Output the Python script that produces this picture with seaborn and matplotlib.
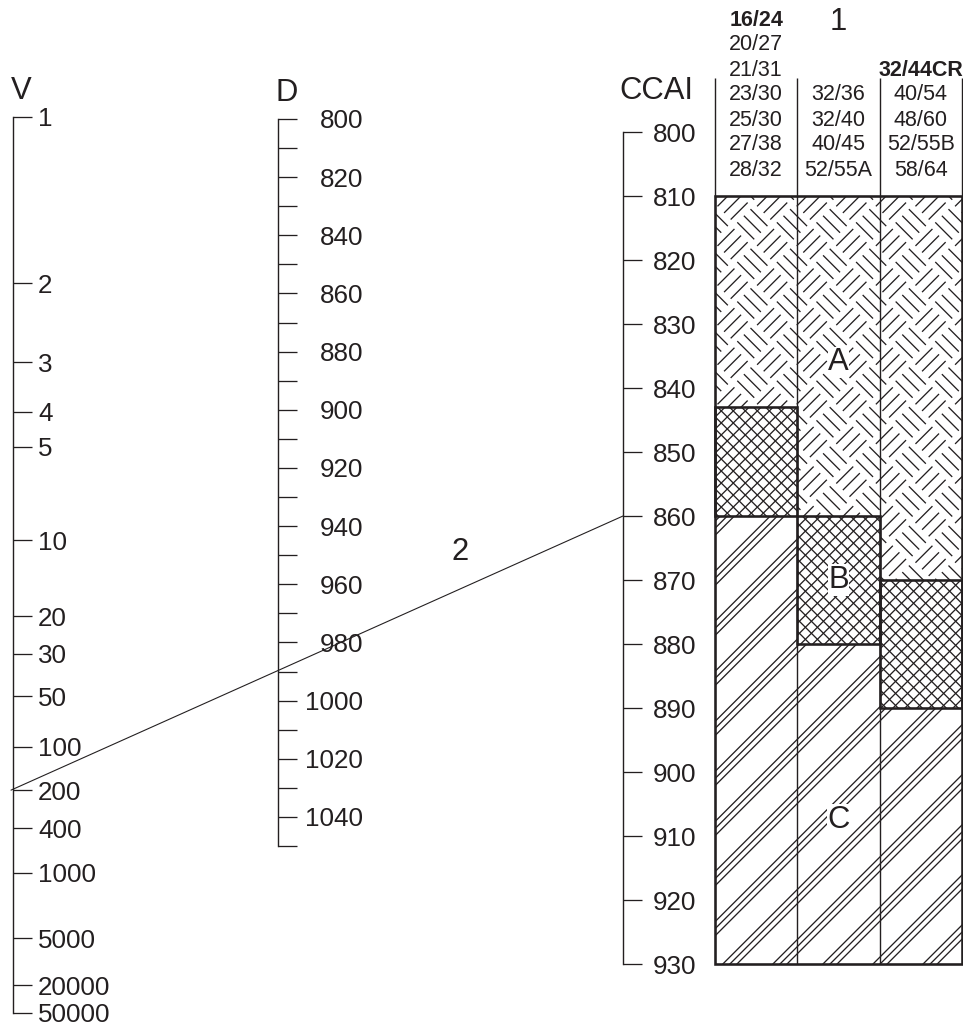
import numpy as np
import matplotlib
matplotlib.use('Agg')
import matplotlib.pyplot as plt
import seaborn as sns
from matplotlib.collections import LineCollection
from matplotlib.patches import Rectangle
from matplotlib.transforms import IdentityTransform
from matplotlib.lines import Line2D
from matplotlib.ticker import NullLocator, FixedLocator

# ---------------- data ----------------
v_ticks = [1, 2, 3, 4, 5, 10, 20, 30, 50, 100, 200, 400, 1000, 5000, 20000, 50000]
d_major = list(range(800, 1041, 20))
d_minor = list(range(810, 1051, 20))
ccai_ticks = list(range(800, 931, 10))

col1_grades = ['16/24', '20/27', '21/31', '23/30', '25/30', '27/38', '28/32']
col2_grades = ['32/36', '32/40', '40/45', '52/55A']
col3_grades = ['32/44CR', '40/54', '48/60', '52/55B', '58/64']
bold_grades = ['16/24', '32/44CR']

zone_a_top = [810, 810, 810]
zone_b_top = [843, 860, 870]
zone_c_top = [860, 880, 890]
zone_bottom = [930, 930, 930]
zone_labels = ['A', 'B', 'C']
zone_label_ccai = [836, 870, 907.5]

example_v = 200
example_ccai = 860

# ---------------- style ----------------
sns.set_theme(style='white')
plt.rcParams['font.family'] = ['Liberation Sans', 'DejaVu Sans']
ink = '#231f20'

W, H, DPI = 963, 1036, 72
fig = plt.figure(figsize=(W / DPI, H / DPI), dpi=DPI)
fig.patch.set_facecolor('white')


def px_axes(x0, y0, x1, y1):
    return fig.add_axes([x0 / W, 1 - y1 / H, (x1 - x0) / W, (y1 - y0) / H])


def scale_axis(ax, pad, fs=26):
    ax.set_facecolor('none')
    for s in ['left', 'top', 'bottom']:
        ax.spines[s].set_visible(False)
    ax.spines['right'].set_visible(True)
    ax.spines['right'].set_color(ink)
    ax.spines['right'].set_linewidth(1.4)
    ax.xaxis.set_visible(False)
    ax.yaxis.tick_right()
    ax.tick_params(axis='y', which='both', direction='out', length=19, width=1.3,
                   color=ink, labelcolor=ink, labelsize=fs, pad=pad)
    ax.set_xlim(0, 1)


# V axis (double-log viscosity scale)
ax_v = px_axes(0, 117, 13, 1013)
with np.errstate(all='ignore'):
    ax_v.set_yscale('function', functions=(lambda v: np.log10(np.log10(np.asarray(v) + 0.85)),
                                           lambda t: 10 ** (10 ** np.asarray(t)) - 0.85))
ax_v.set_ylim(50000, 1)
scale_axis(ax_v, pad=6)
ax_v.yaxis.set_major_locator(FixedLocator(v_ticks))
ax_v.yaxis.set_minor_locator(NullLocator())
ax_v.set_yticklabels([str(v) for v in v_ticks])

# D axis (density)
ax_d = px_axes(200, 119, 278, 846)
ax_d.set_ylim(1050, 800)
scale_axis(ax_d, pad=66)
ax_d.set_yticks(d_major)
ax_d.set_yticks(d_minor, minor=True)
ax_d.set_yticklabels([str(d) for d in d_major])
for lab in ax_d.get_yticklabels():
    lab.set_ha('right')

# CCAI axis
ax_c = px_axes(560, 132, 623, 964)
ax_c.set_ylim(930, 800)
scale_axis(ax_c, pad=11)
ax_c.set_yticks(ccai_ticks)
ax_c.yaxis.set_minor_locator(NullLocator())
ax_c.set_yticklabels([str(c) for c in ccai_ticks])

# titles
fs_title = 31
fig.text(11 / W, 1 - 91 / H, 'V', ha='left', va='center', fontsize=fs_title, color=ink)
fig.text(276 / W, 1 - 93 / H, 'D', ha='left', va='center', fontsize=fs_title, color=ink)
fig.text(619 / W, 1 - 91 / H, 'CCAI', ha='left', va='center', fontsize=fs_title, color=ink)
fig.text(838 / W, 1 - 22 / H, '1', ha='center', va='center', fontsize=fs_title, color=ink)
fig.text(460 / W, 1 - 552 / H, '2', ha='center', va='center', fontsize=fs_title, color=ink)

# ---------------- zone box ----------------
ax_b = px_axes(715, 132, 962, 964)
ax_b.set_xlim(0, 3)
ax_b.set_ylim(930, 800)
ax_b.axis('off')

fig.canvas.draw()
(bx0, by0) = ax_b.transData.transform((0, 930))
(bx1, by1) = ax_b.transData.transform((3, 810))
bx0 -= 40; by0 -= 40; bx1 += 40; by1 += 40
r2 = np.sqrt(2)


def uv_range():
    cx = np.array([bx0, bx0, bx1, bx1]); cy = np.array([by0, by1, by0, by1])
    u = (cx + cy) / r2; v = (cx - cy) / r2
    return u.min(), u.max(), v.min(), v.max()


def to_xy(u, v):
    return ((u + v) / r2, (u - v) / r2)


def basket_segments(s=28.0, n=3, g=2.0):
    umin, umax, vmin, vmax = uv_range()
    segs = []
    for i in range(int(np.floor(umin / s)) - 1, int(np.ceil(umax / s)) + 1):
        for j in range(int(np.floor(vmin / s)) - 1, int(np.ceil(vmax / s)) + 1):
            for k in range(n):
                off = s * (k + 0.5) / n
                if (i + j) % 2 == 0:
                    vv = j * s + off
                    segs.append([to_xy(i * s + g, vv), to_xy((i + 1) * s - g, vv)])
                else:
                    uu = i * s + off
                    segs.append([to_xy(uu, j * s + g), to_xy(uu, (j + 1) * s - g)])
    return segs


def cross_segments(step=8.5):
    umin, umax, vmin, vmax = uv_range()
    segs = []
    for k in range(int(np.floor(umin / step)), int(np.ceil(umax / step)) + 1):
        segs.append([to_xy(k * step, vmin), to_xy(k * step, vmax)])
    for k in range(int(np.floor(vmin / step)), int(np.ceil(vmax / step)) + 1):
        segs.append([to_xy(umin, k * step), to_xy(umax, k * step)])
    return segs


def triple_segments(period=35.4, gap=5.0):
    umin, umax, vmin, vmax = uv_range()
    segs = []
    for m in range(int(np.floor(vmin / period)) - 1, int(np.ceil(vmax / period)) + 1):
        for q in range(3):
            vv = m * period + q * gap
            segs.append([to_xy(umin, vv), to_xy(umax, vv)])
    return segs


patterns = {'A': basket_segments(), 'B': cross_segments(), 'C': triple_segments()}


def zone(col, top, bottom, kind):
    rect = Rectangle((col, top), 1, bottom - top, facecolor='white', edgecolor='none', zorder=1)
    ax_b.add_patch(rect)
    lc = LineCollection(patterns[kind], colors=ink, linewidths=1.3,
                        transform=IdentityTransform(), zorder=2)
    ax_b.add_collection(lc, autolim=False)
    lc.set_clip_path(rect)


for col in range(3):
    zone(col, zone_a_top[col], zone_b_top[col], 'A')
    zone(col, zone_b_top[col], zone_c_top[col], 'B')
    zone(col, zone_c_top[col], zone_bottom[col], 'C')

# thin column separators
ax_b.vlines([1, 2], 810, 930, colors=ink, linewidth=1.4, zorder=3)
# thick outlines of B zones and the outer box
for col in range(3):
    ax_b.add_patch(Rectangle((col, zone_b_top[col]), 1, zone_c_top[col] - zone_b_top[col],
                             fill=False, edgecolor=ink, linewidth=2.6, zorder=4, clip_on=False))
ax_b.add_patch(Rectangle((0, 810), 3, 120, fill=False, edgecolor=ink, linewidth=2.6,
                         zorder=4, clip_on=False))

label_pos = {'A': zone_label_ccai[0], 'B': zone_label_ccai[1], 'C': zone_label_ccai[2]}
for lab in zone_labels:
    ax_b.text(1.5, label_pos[lab], lab, ha='center', va='center', fontsize=31, color=ink, zorder=5,
              bbox=dict(facecolor='white', edgecolor='none', pad=0.5))

# ---------------- header ----------------
ax_h = px_axes(715, 0, 962, 197)
ax_h.set_xlim(0, 3)
ax_h.set_ylim(7.08, -0.8)
ax_h.axis('off')
ax_h.vlines([0, 1, 2, 3], 2.3, 7.08, colors=ink, linewidth=1.4, clip_on=False)


def header_col(x, grades, first_row):
    for r, g in enumerate(grades):
        ax_h.text(x, first_row + r, g, ha='center', va='center', fontsize=21.5, color=ink,
                  fontweight='bold' if g in bold_grades else 'normal')


header_col(0.5, col1_grades, 0)
header_col(1.5, col2_grades, 3)
header_col(2.5, col3_grades, 2)

# ---------------- example line ----------------
p_v = (ax_v.transAxes.transform((1, 0))[0] - 2, ax_v.transData.transform((1, example_v))[1])
p_c = (ax_c.transAxes.transform((1, 0))[0], ax_c.transData.transform((1, example_ccai))[1])
fig.add_artist(Line2D([p_v[0], p_c[0]], [p_v[1], p_c[1]], color=ink, linewidth=1.1,
                      transform=IdentityTransform()))

fig.savefig('out.png', dpi=DPI, facecolor='white')
